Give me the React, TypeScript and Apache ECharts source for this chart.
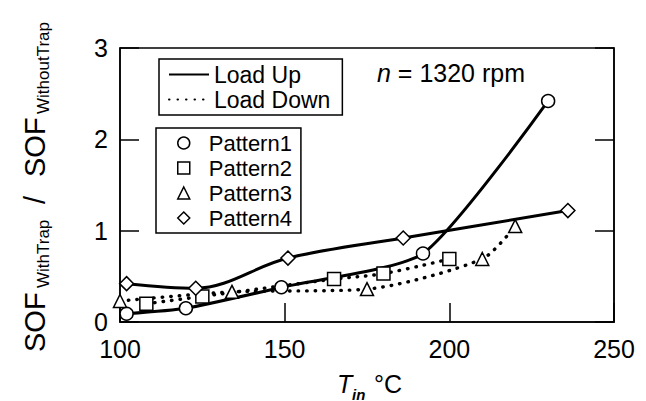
import React, { useEffect, useRef } from "react";
import * as echarts from "echarts";

// ---- data ----
const xTickMin = 100;
const xTickMax = 250;
const xTickStep = 50;
const yTickMin = 0;
const yTickMax = 3;
const yTickStep = 1;

const loadNames = ["Load Up", "Load Down"];
const patternNames = ["Pattern1", "Pattern2", "Pattern3", "Pattern4"];
const patternSymbols = ["circle", "rect", "triangle", "diamond"];
const patternLoad = ["Load Up", "Load Down", "Load Down", "Load Up"];
const patternSmooth = [0.2, 0.35, 0.25, 0.35];

const pattern1 = [
  [102, 0.09],
  [120, 0.15],
  [149, 0.38],
  [192, 0.75],
  [230, 2.42],
];
const pattern2 = [
  [108, 0.2],
  [125, 0.28],
  [165, 0.47],
  [180, 0.53],
  [200, 0.69],
];
const pattern3 = [
  [100, 0.23],
  [134, 0.33],
  [175, 0.36],
  [210, 0.69],
  [220, 1.05],
];
const pattern4 = [
  [102, 0.42],
  [123, 0.37],
  [151, 0.7],
  [186, 0.92],
  [236, 1.22],
];
const patternData = [pattern1, pattern2, pattern3, pattern4];

const FONT = "'Liberation Sans', Arial, Helvetica, sans-serif";

const solidStyle = { color: "#000", width: 3, type: "solid" as const };
const dottedStyle = { color: "#000", width: 3.4, type: [0.5, 8] as any, cap: "round" as const };

function lineStyleFor(load: string) {
  return load === "Load Up" ? solidStyle : dottedStyle;
}

export default function App() {
  const ref = useRef<HTMLDivElement | null>(null);

  useEffect(() => {
    if (!ref.current) return;
    const chart = echarts.init(ref.current, null, { renderer: "svg" });

    const dummySeries = loadNames.map((n) => ({
      name: n,
      type: "line",
      data: [],
      symbol: "none",
      lineStyle: lineStyleFor(n),
    }));

    const curveSeries = patternNames.map((n, i) => ({
      name: n + " curve",
      type: "line",
      data: patternData[i],
      smooth: patternSmooth[i],
      showSymbol: false,
      symbol: "none",
      silent: true,
      lineStyle: lineStyleFor(patternLoad[i]),
      z: 2,
    }));

    const markerSeries = patternNames.map((n, i) => ({
      name: n,
      type: "scatter",
      data: patternData[i],
      symbol: patternSymbols[i],
      symbolSize: i === 3 ? 14 : 13,
      itemStyle: { color: "#fff", borderColor: "#000", borderWidth: 1.5, opacity: 1 },
      z: 5,
      silent: true,
    }));

    const option: any = {
      animation: false,
      backgroundColor: "#fff",
      grid: {
        left: 120,
        top: 48,
        width: 494,
        height: 274,
        show: true,
        borderColor: "#000",
        borderWidth: 1.5,
        backgroundColor: "transparent",
      },
      xAxis: {
        type: "value",
        min: xTickMin,
        max: xTickMax,
        interval: xTickStep,
        axisLine: { show: true, lineStyle: { color: "#000", width: 1.5 } },
        axisTick: { show: true, inside: true, length: 19, lineStyle: { color: "#000", width: 1.5 } },
        axisLabel: { fontSize: 25, color: "#000", fontFamily: FONT, margin: 14 },
        splitLine: { show: false },
      },
      yAxis: [
        {
          type: "value",
          min: yTickMin,
          max: yTickMax,
          interval: yTickStep,
          axisLine: { show: true, lineStyle: { color: "#000", width: 1.5 } },
          axisTick: { show: true, inside: true, length: 19, lineStyle: { color: "#000", width: 1.5 } },
          axisLabel: { fontSize: 25, color: "#000", fontFamily: FONT, margin: 12 },
          splitLine: { show: false },
        },
        {
          type: "value",
          position: "right",
          min: yTickMin,
          max: yTickMax,
          interval: yTickStep,
          axisLine: { show: true, lineStyle: { color: "#000", width: 1.5 } },
          axisTick: { show: true, inside: true, length: 19, lineStyle: { color: "#000", width: 1.5 } },
          axisLabel: { show: false },
          splitLine: { show: false },
        },
      ],
      legend: [
        {
          data: loadNames,
          orient: "vertical",
          left: 159,
          top: 59,
          itemWidth: 40,
          itemHeight: 14,
          itemGap: 2,
          padding: [4, 12, 4, 9],
          borderColor: "#000",
          borderWidth: 1.5,
          backgroundColor: "#fff",
          selectedMode: false,
          itemStyle: { opacity: 0 },
          textStyle: { fontSize: 23, color: "#000", fontFamily: FONT },
        },
        {
          data: patternNames.map((n, i) => ({ name: n, icon: patternSymbols[i] })),
          orient: "vertical",
          left: 156,
          top: 128,
          itemWidth: 12,
          itemHeight: 12,
          itemGap: 3,
          padding: [4, 9, 4, 21],
          borderColor: "#000",
          borderWidth: 1.5,
          backgroundColor: "#fff",
          selectedMode: false,
          itemStyle: { color: "#fff", borderColor: "#000", borderWidth: 1.5, opacity: 1 },
          textStyle: { fontSize: 22, color: "#000", fontFamily: FONT, padding: [0, 0, 0, 14] },
        },
      ],
      graphic: [
        {
          type: "text",
          left: 377,
          top: 60,
          style: {
            text: "{i|n} = 1320 rpm",
            fontSize: 25,
            fontFamily: FONT,
            fill: "#000",
            rich: { i: { fontStyle: "italic", fontSize: 25, fontFamily: FONT } },
          },
        },
        // x-axis title
        {
          type: "text",
          x: 337,
          y: 384,
          style: { text: "T", fontSize: 25, fontStyle: "italic", fontFamily: FONT, fill: "#000", verticalAlign: "middle" },
        },
        {
          type: "text",
          x: 352,
          y: 394,
          style: { text: "in", fontSize: 15, fontStyle: "italic", fontWeight: "bold", fontFamily: FONT, fill: "#000", verticalAlign: "middle" },
        },
        {
          type: "text",
          x: 374,
          y: 384,
          style: { text: "°C", fontSize: 25, fontFamily: FONT, fill: "#000", verticalAlign: "middle" },
        },
        // y-axis title (rotated)
        {
          type: "group",
          x: 35,
          y: 352,
          rotation: Math.PI / 2,
          children: [
            { type: "text", x: 0, y: 0, style: { text: "SOF", fontSize: 29, fontFamily: FONT, fill: "#000", verticalAlign: "middle" } },
            { type: "text", x: 64, y: 8, style: { text: "WithTrap", fontSize: 17, fontFamily: FONT, fill: "#000", verticalAlign: "middle" } },
            { type: "text", x: 152, y: 0, style: { text: "/", fontSize: 29, fontFamily: FONT, fill: "#000", verticalAlign: "middle", align: "center" } },
            { type: "text", x: 175, y: 0, style: { text: "SOF", fontSize: 29, fontFamily: FONT, fill: "#000", verticalAlign: "middle" } },
            { type: "text", x: 238, y: 8, style: { text: "WithoutTrap", fontSize: 17, fontFamily: FONT, fill: "#000", verticalAlign: "middle" } },
          ],
        },
      ],
      series: [...dummySeries, ...curveSeries, ...markerSeries],
    };

    chart.setOption(option);
    return () => chart.dispose();
  }, []);

  return (
    <div
      ref={ref}
      style={{ position: "fixed", left: 0, top: 0, width: 646, height: 401, background: "#fff" }}
    />
  );
}
